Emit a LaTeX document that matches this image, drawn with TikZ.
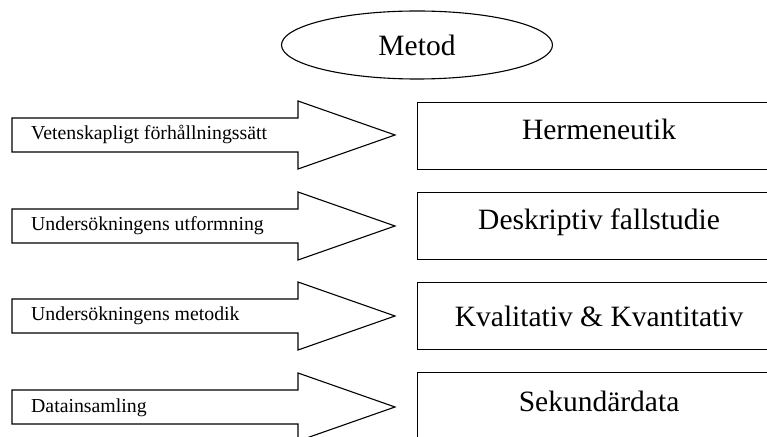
\documentclass[tikz,border=0pt]{standalone}
\usepackage{fontspec}
\setmainfont{Liberation Serif}
\usetikzlibrary{shapes.geometric,positioning}
\tikzset{
    myarrow/.style={draw=black,line width=1.1pt,fill=white,line join=miter},
    mybox/.style={draw=black,line width=1.1pt,minimum width=363pt,minimum height=67pt,inner sep=0pt,anchor=north west},
    myoval/.style={ellipse,draw=black,line width=1.1pt,minimum width=271pt,minimum height=68pt,inner sep=0pt,font=\fontsize{29.5}{32}\selectfont},
    mytext/.style={inner sep=0pt,anchor=base,font=\fontsize{29.5}{32}\selectfont},
    mylabel/.style={inner sep=0pt,anchor=base west,font=\fontsize{19.8}{22}\selectfont}
}
\begin{document}
\begin{tikzpicture}[x=1pt,y=1pt]
  \useasboundingbox (0,0) rectangle (767,436);

  % rubrik
  \node[myoval] (metod) at (417,391) {Metod};

  % pilar: spets vid (395,y)
  \foreach \r/\ty in {1/301,2/210,3/120,4/29}{
    \coordinate (tip\r) at (395,\ty);
    \draw[myarrow] (12,\ty+17) -- (298,\ty+17) -- (298,\ty+34) -- (tip\r)
      -- (298,\ty-34) -- (298,\ty-17) -- (12,\ty-17) -- cycle;
  }
  \node[mylabel] (lab1) at ([xshift=-364pt,yshift=-5pt]tip1) {Vetenskapligt förhållningssätt};
  \node[mylabel] (lab2) at ([xshift=-364pt,yshift=-5pt]tip2) {Undersökningens utformning};
  \node[mylabel] (lab3) at ([xshift=-364pt,yshift=-5pt]tip3) {Undersökningens metodik};
  \node[mylabel] (lab4) at ([xshift=-364pt,yshift=-5pt]tip4) {Datainsamling};

  % rutor
  \node[mybox] (box1) at (417,334) {};
  \node[mybox] (box2) at (417,244) {};
  \node[mybox] (box3) at (417,154) {};
  \node[mybox] (box4) at (417,64)  {};
  \node[mytext] (txt1) at ([yshift=-38pt]box1.north) {Hermeneutik};
  \node[mytext] (txt2) at ([yshift=-38pt]box2.north) {Deskriptiv fallstudie};
  \node[mytext] (txt3) at ([yshift=-45pt]box3.north) {Kvalitativ \& Kvantitativ};
  \node[mytext] (txt4) at ([yshift=-39pt]box4.north) {Sekundärdata};
\end{tikzpicture}
\end{document}
